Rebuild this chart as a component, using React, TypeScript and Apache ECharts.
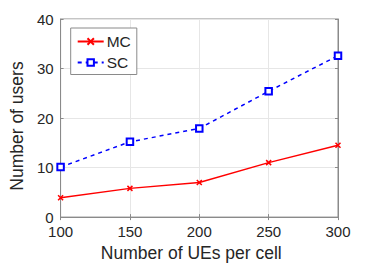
import React, { useEffect, useRef } from "react";
import * as echarts from "echarts";

const categories = [100, 150, 200, 250, 300];
const mcValues = [3.9, 5.8, 7.0, 11.0, 14.5];
const scValues = [10.1, 15.2, 17.9, 25.4, 32.6];
const xTitle = "Number of UEs per cell";
const yTitle = "Number of users";

const FONT = "'Liberation Sans', Arial, Helvetica, sans-serif";
const TXT = "#262626";
const AX = "#8a8a8a";

export default function App() {
  const ref = useRef<HTMLDivElement>(null);
  useEffect(() => {
    const chart = echarts.init(ref.current!, null, { renderer: "svg" });
    const mc = categories.map((c, i) => [c, mcValues[i]]);
    const sc = categories.map((c, i) => [c, scValues[i]]);
    chart.setOption({
      animation: false,
      backgroundColor: "#fff",
      textStyle: { fontFamily: FONT },
      grid: { left: 48.5, right: 36, top: 19, bottom: 44, show: true, borderColor: AX, borderWidth: 1 },
      legend: {
        orient: "vertical",
        left: 70.7,
        top: 28,
        padding: [5.5, 6, 4, 6],
        itemGap: 5,
        itemWidth: 26,
        itemHeight: 8,
        backgroundColor: "#fff",
        borderColor: AX,
        borderWidth: 1,
        borderRadius: 0,
        textStyle: { fontFamily: FONT, fontSize: 15.5, color: TXT, lineHeight: 15, padding: [0, 0, 0, -2] },
        data: ["MC", "SC"],
      },
      xAxis: [
        {
          type: "value",
          min: 100,
          max: 300,
          interval: 50,
          name: xTitle,
          nameLocation: "middle",
          nameGap: 26,
          nameTextStyle: { fontFamily: FONT, fontSize: 17.5, color: TXT, padding: [0, 16, 0, 0] },
          axisLine: { show: true, lineStyle: { color: AX } },
          axisTick: { show: true, inside: true, length: 3, lineStyle: { color: AX } },
          axisLabel: { fontFamily: FONT, fontSize: 15, color: TXT, margin: 8, lineHeight: 13 },
          splitLine: { show: true, lineStyle: { color: "#e6e6e6" } },
        },
        {
          type: "value",
          position: "top",
          min: 100,
          max: 300,
          interval: 50,
          axisLine: { show: true, lineStyle: { color: AX } },
          axisTick: { show: true, inside: true, length: 3, lineStyle: { color: AX } },
          axisLabel: { show: false },
          splitLine: { show: false },
        },
      ],
      yAxis: [
        {
          type: "value",
          min: 0,
          max: 40,
          interval: 10,
          name: yTitle,
          nameLocation: "middle",
          nameGap: 30,
          nameTextStyle: { fontFamily: FONT, fontSize: 17.5, color: TXT, padding: [0, 16, 0, 0] },
          axisLine: { show: true, lineStyle: { color: AX } },
          axisTick: { show: true, inside: true, length: 3, lineStyle: { color: AX } },
          axisLabel: { fontFamily: FONT, fontSize: 15, color: TXT, margin: 7, lineHeight: 11, padding: [0, 0, 2, 0] },
          splitLine: { show: true, lineStyle: { color: "#e6e6e6" } },
        },
        {
          type: "value",
          position: "right",
          min: 0,
          max: 40,
          interval: 10,
          axisLine: { show: true, lineStyle: { color: AX } },
          axisTick: { show: true, inside: true, length: 3, lineStyle: { color: AX } },
          axisLabel: { show: false },
          splitLine: { show: false },
        },
      ],
      series: [
        {
          name: "MC",
          type: "line",
          data: mc,
          symbol: "path://M0,0L10,10M10,0L0,10",
          symbolSize: 5,
          showSymbol: true,
          color: "#ff0000",
          lineStyle: { color: "#ff0000", width: 1.5 },
          itemStyle: { color: "#ff0000", borderColor: "#ff0000", borderWidth: 1.5 },
        },
        {
          name: "SC",
          type: "line",
          data: sc,
          symbol: "emptyRect",
          symbolSize: 6.5,
          showSymbol: true,
          color: "#0000ff",
          lineStyle: { color: "#0000ff", width: 1.5, type: [4, 4] },
          itemStyle: { color: "#0000ff", borderColor: "#0000ff", borderWidth: 1.5 },
        },
      ],
    });
    return () => chart.dispose();
  }, []);
  return <div ref={ref} style={{ position: "absolute", left: 0, top: 0, width: 374, height: 267 }} />;
}
